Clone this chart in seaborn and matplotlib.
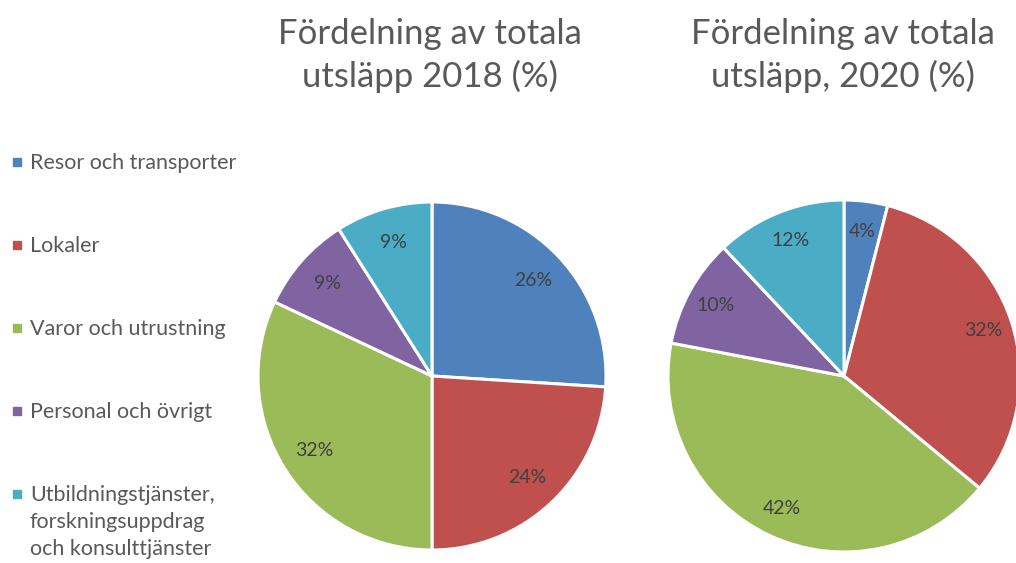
import matplotlib
matplotlib.use("Agg")
import matplotlib.pyplot as plt
import seaborn as sns
from matplotlib.patches import Rectangle

categories = ["Resor och transporter", "Lokaler", "Varor och utrustning",
              "Personal och övrigt",
              "Utbildningstjänster,\nforskningsuppdrag\noch konsulttjänster"]
values_2018 = [26, 24, 32, 9, 9]
values_2020 = [4, 32, 42, 10, 12]
title_2018 = "Fördelning av totala\nutsläpp 2018 (%)"
title_2020 = "Fördelning av totala\nutsläpp, 2020 (%)"

sns.set_theme(style="white")
plt.rcParams['font.family'] = ['Lato', 'DejaVu Sans']
colors = ["#4F81BD", "#C0504D", "#9BBB59", "#8064A2", "#4BACC6"]

W, H = 1016, 563
fig = plt.figure(figsize=(W / 100, H / 100), dpi=100)

def add_pie(cx, cy, r, vals, title, tx, pd):
    ax = fig.add_axes([(cx - r) / W, (H - cy - r) / H, 2 * r / W, 2 * r / H])
    ax.pie(vals, colors=colors, startangle=90, counterclock=False,
           autopct=lambda p: f"{p:.0f}%", pctdistance=pd,
           wedgeprops=dict(edgecolor="white", linewidth=2.2),
           textprops=dict(color="#404040", fontsize=14), radius=1.0)
    ax.set_xlim(-1.0, 1.0)
    ax.set_ylim(-1.0, 1.0)
    ax.set_aspect("equal")
    ax.axis("off")
    fig.text(tx / W, 1 - 18 / H, title, ha="center", va="top",
             fontsize=25, color="#595959", linespacing=1.35)

add_pie(432, 376, 174, values_2018, title_2018, 430, 0.8)
add_pie(844, 376, 176, values_2020, title_2020, 843, 0.83)

ys = [162, 245, 328, 411, 494]
for lab, col, y in zip(categories, colors, ys):
    fig.patches.append(Rectangle((13 / W, 1 - (y + 4) / H), 8 / W, 8 / H,
                                 transform=fig.transFigure, color=col))
    fig.text(30 / W, 1 - (y - 9) / H, lab, ha="left", va="top",
             fontsize=15.5, color="#595959", linespacing=1.45)

fig.savefig("out.png", dpi=100)
